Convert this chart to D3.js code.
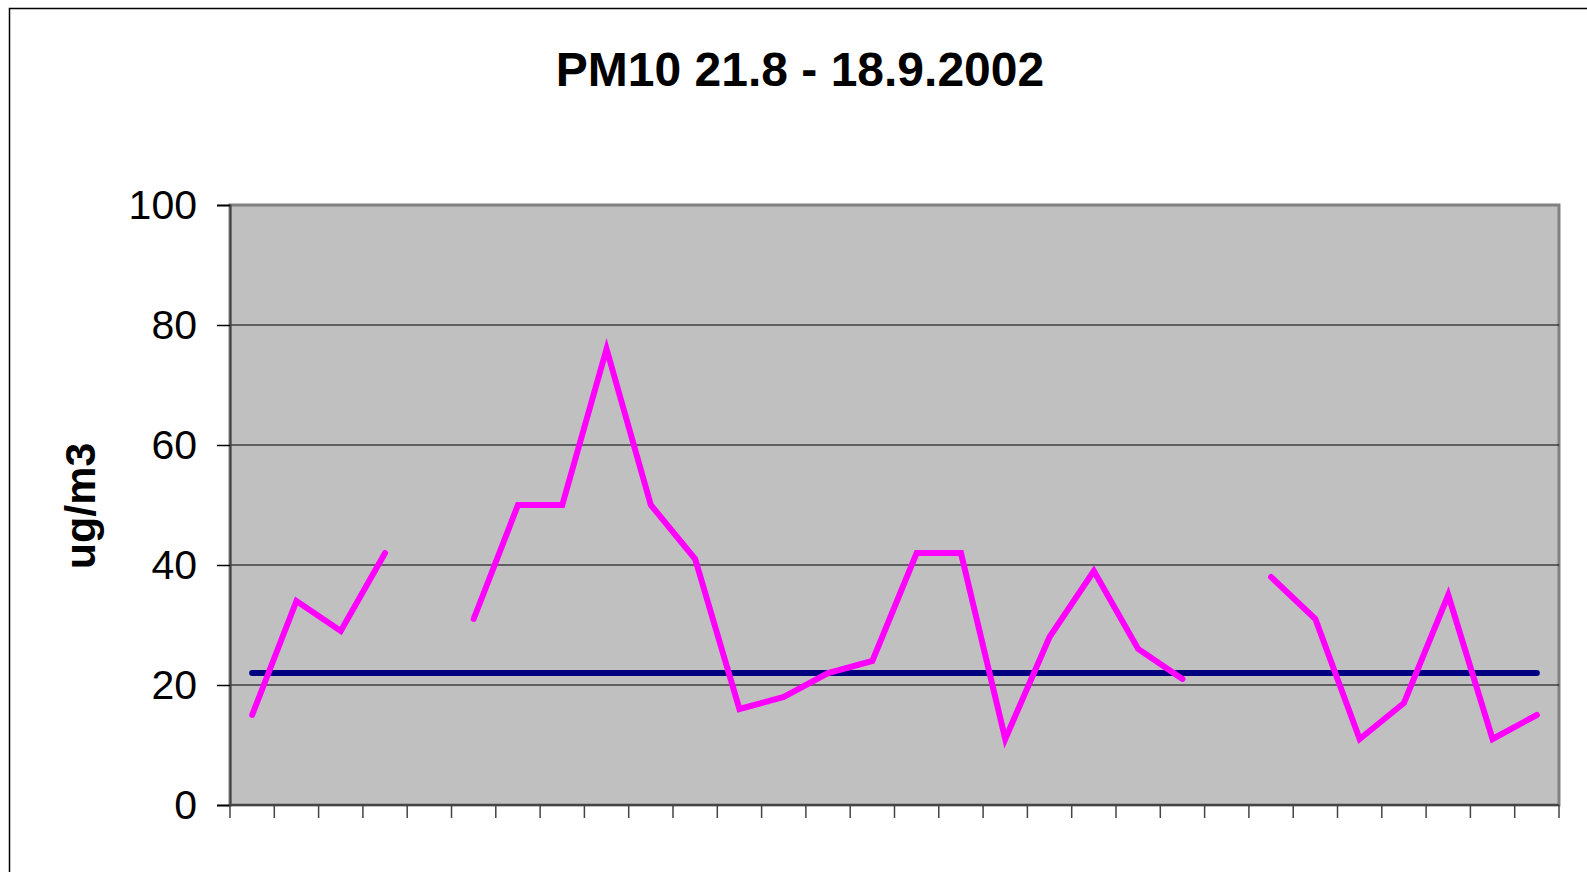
<!DOCTYPE html>
<html>
<head>
<meta charset="utf-8">
<script src="https://cdn.jsdelivr.net/npm/d3@7"></script>
<style>
  body { margin: 0; background: #fff; }
  svg { display: block; }
</style>
</head>
<body>
<div id="chart"></div>
<script>
// days of the measuring period (no labels are printed under the axis)
const days = ["21.8","22.8","23.8","24.8","25.8","26.8","27.8","28.8","29.8","30.8","31.8",
  "1.9","2.9","3.9","4.9","5.9","6.9","7.9","8.9","9.9","10.9","11.9","12.9","13.9",
  "14.9","15.9","16.9","17.9","18.9","19.9"];

// PM10 daily values, null = no measurement
const pm10 = [15, 34, 29, 42, null, 31, 50, 50, 76, 50, 41, 16, 18, 22, 24, 42, 42,
  11, 28, 39, 26, 21, null, 38, 31, 11, 17, 35, 11, 15];

// reference level, same for every day
const limit = [22, 22, 22, 22, 22, 22, 22, 22, 22, 22, 22, 22, 22, 22, 22, 22, 22,
  22, 22, 22, 22, 22, 22, 22, 22, 22, 22, 22, 22, 22];

const yTicks = [0, 20, 40, 60, 80, 100];

const width = 1587, height = 872;
const margin = {left: 230, right: 28, top: 205, bottom: 67};

const svg = d3.select('#chart')
  .append('svg')
  .attr('width', width)
  .attr('height', height);

// outer chart frame
svg.append('rect')
  .attr('x', 9.5).attr('y', 8.5)
  .attr('width', width + 10).attr('height', height + 10)
  .attr('fill', 'none')
  .attr('stroke', '#000')
  .attr('stroke-width', 1.5);

svg.append('text')
  .attr('x', 800)
  .attr('y', 86)
  .attr('text-anchor', 'middle')
  .attr('font-family', 'Liberation Sans, Arial, sans-serif')
  .attr('font-weight', 'bold')
  .attr('font-size', 48)
  .text('PM10 21.8 - 18.9.2002');

const x = d3.scaleBand()
  .domain(days)
  .range([margin.left, width - margin.right])
  .padding(0);

const y = d3.scaleLinear()
  .domain([0, 100])
  .range([height - margin.bottom, margin.top]);

// plot area
svg.append('rect')
  .attr('x', margin.left)
  .attr('y', margin.top)
  .attr('width', width - margin.left - margin.right)
  .attr('height', height - margin.top - margin.bottom)
  .attr('fill', '#c0c0c0')
  .attr('stroke', '#808080')
  .attr('stroke-width', 3);

// gridlines
svg.append('g')
  .selectAll('line')
  .data(yTicks.filter(d => d > 0 && d < 100))
  .enter()
  .append('line')
  .attr('x1', margin.left)
  .attr('x2', width - margin.right)
  .attr('y1', d => y(d))
  .attr('y2', d => y(d))
  .attr('stroke', '#000')
  .attr('stroke-width', 1.2);

// y axis
const yAxis = svg.append('g')
  .attr('transform', `translate(${margin.left},0)`)
  .call(d3.axisLeft(y).tickValues(yTicks).tickSize(13).tickPadding(20));
yAxis.select('.domain').attr('stroke', '#444').attr('stroke-width', 2);
yAxis.selectAll('.tick line').attr('stroke', '#000').attr('stroke-width', 1.5);
yAxis.selectAll('.tick text')
  .attr('font-family', 'Liberation Sans, Arial, sans-serif')
  .attr('font-size', 41)
  .attr('fill', '#000');

// x axis: ticks on the day boundaries, no labels
const xBounds = days.map(d => x(d)).concat([x.range()[1]]);
const xAxis = svg.append('g');
xAxis.append('line')
  .attr('x1', margin.left).attr('x2', width - margin.right)
  .attr('y1', y(0)).attr('y2', y(0))
  .attr('stroke', '#444').attr('stroke-width', 2);
xAxis.selectAll('.xt')
  .data(xBounds)
  .enter()
  .append('line')
  .attr('class', 'xt')
  .attr('x1', d => d).attr('x2', d => d)
  .attr('y1', y(0)).attr('y2', y(0) + 13)
  .attr('stroke', '#444')
  .attr('stroke-width', 1.5);

svg.append('text')
  .attr('transform', `translate(95,506) rotate(-90)`)
  .attr('text-anchor', 'middle')
  .attr('font-family', 'Liberation Sans, Arial, sans-serif')
  .attr('font-weight', 'bold')
  .attr('font-size', 43)
  .text('ug/m3');

const cx = d => x(d) + x.bandwidth() / 2;

const limitLine = d3.line()
  .x((d, i) => cx(days[i]))
  .y(d => y(d));

svg.append('path')
  .datum(limit)
  .attr('d', limitLine)
  .attr('fill', 'none')
  .attr('stroke', '#000080')
  .attr('stroke-width', 6)
  .attr('stroke-linecap', 'round');

const pmLine = d3.line()
  .defined(d => d !== null)
  .x((d, i) => cx(days[i]))
  .y(d => y(d));

svg.append('path')
  .datum(pm10)
  .attr('d', pmLine)
  .attr('fill', 'none')
  .attr('stroke', '#ff00ff')
  .attr('stroke-width', 6)
  .attr('stroke-linecap', 'round');
</script>
</body>
</html>
